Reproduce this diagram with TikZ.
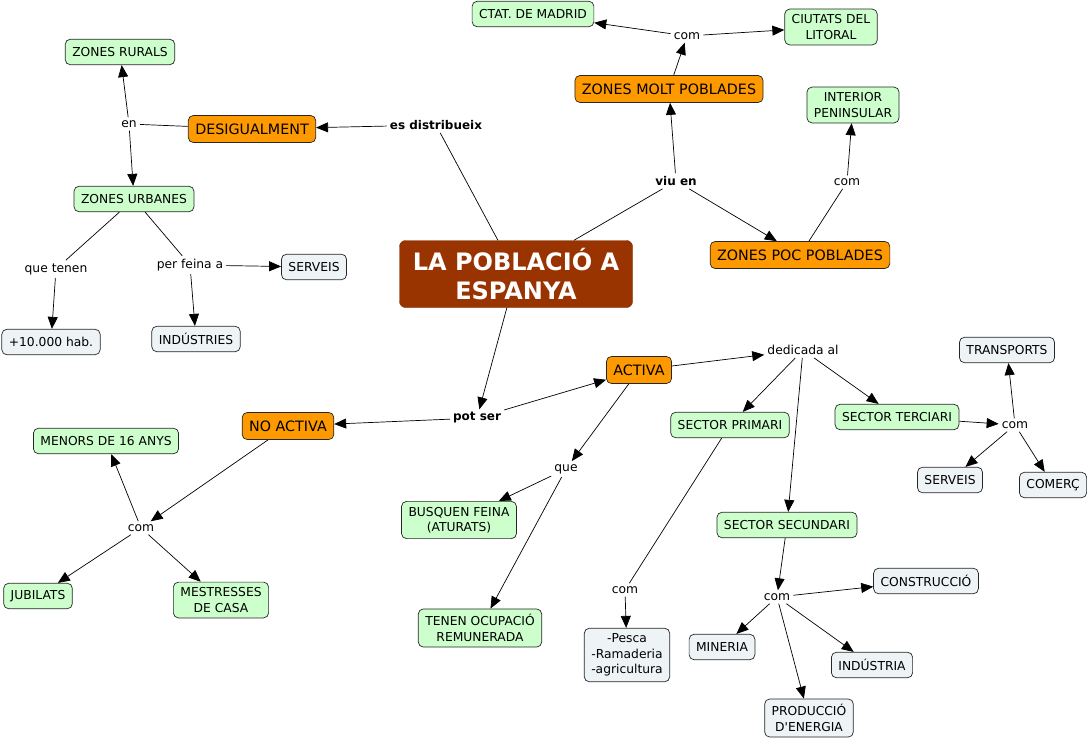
\documentclass[tikz,border=0pt]{standalone}
\usepackage{fontspec}
\setmainfont{DejaVu Sans}
\usetikzlibrary{arrows.meta}
\definecolor{grnc}{RGB}{204,255,204}
\definecolor{gryc}{RGB}{238,243,246}
\definecolor{orgc}{RGB}{255,153,0}
\definecolor{brnc}{RGB}{153,51,0}
\newcommand\myfs[1]{\fontsize{#1}{15.5}\selectfont}
\tikzset{
 base/.style={rounded corners=5pt, draw=black!85, line width=0.7pt, inner xsep=7pt, inner ysep=5.5pt, font=\myfs{12.3}, align=center},
 grn/.style={base, fill=grnc, minimum height=25.5pt},
 gry/.style={base, fill=gryc, minimum height=25.5pt},
 org/.style={base, fill=orgc, font=\myfs{14.3}, minimum height=27pt, inner xsep=7pt},
 lbl/.style={inner sep=3pt, font=\myfs{12.3}},
 blbl/.style={inner sep=3pt, font=\bfseries\myfs{12}},
 arr/.style={-{Triangle[length=12pt,width=10pt]}, line width=0.7pt},
 ln/.style={line width=0.7pt}
}
\begin{document}
\begin{tikzpicture}[x=1pt,y=-1pt]
\useasboundingbox (0,0) rectangle (1089,741);
% title
\node[rounded corners=6pt, fill=brnc, draw=brnc!80!black, text=white, font=\bfseries\fontsize{24}{29}\selectfont, align=center, minimum width=233pt, minimum height=67pt] (title) at (516,274) {LA POBLACIÓ A\\ESPANYA};
% orange
\node[org] (desig) at (252,129) {DESIGUALMENT};
\node[org] (molt) at (669,89) {ZONES MOLT POBLADES};
\node[org] (poc) at (800,255) {ZONES POC POBLADES};
\node[org] (activa) at (639,370) {ACTIVA};
\node[org] (noactiva) at (288,426) {NO ACTIVA};
% green
\node[grn] (rurals) at (120,52) {ZONES RURALS};
\node[grn] (urbanes) at (134,199) {ZONES URBANES};
\node[grn] (madrid) at (533,14) {CTAT. DE MADRID};
\node[grn] (litoral) at (831,27) {CIUTATS DEL\\LITORAL};
\node[grn] (interior) at (853,105) {INTERIOR\\PENINSULAR};
\node[grn] (menors) at (106,441) {MENORS DE 16 ANYS};
\node[grn] (jubilats) at (38,596) {JUBILATS};
\node[grn] (mestresses) at (221,600) {MESTRESSES\\DE CASA};
\node[grn] (busquen) at (459,520) {BUSQUEN FEINA\\(ATURATS)};
\node[grn] (tenen) at (480,628) {TENEN OCUPACIÓ\\REMUNERADA};
\node[grn] (primari) at (730,425) {SECTOR PRIMARI};
\node[grn] (terciari) at (897,417) {SECTOR TERCIARI};
\node[grn] (secundari) at (787,525) {SECTOR SECUNDARI};
% grey
\node[gry] (serveisA) at (314,267) {SERVEIS};
\node[gry] (hab) at (51,342) {+10.000 hab.};
\node[gry] (industries) at (196,339) {INDÚSTRIES};
\node[gry] (transports) at (1007,350) {TRANSPORTS};
\node[gry] (serveisB) at (950,480) {SERVEIS};
\node[gry] (comerc) at (1053,485) {COMERÇ};
\node[gry] (construccio) at (926,581) {CONSTRUCCIÓ};
\node[gry] (pesca) at (627,655) {-Pesca\\-Ramaderia\\-agricultura};
\node[gry] (mineria) at (722,647) {MINERIA};
\node[gry] (industria) at (872,665) {INDÚSTRIA};
\node[gry] (energia) at (809,718) {PRODUCCIÓ\\D\textquotesingle ENERGIA};
% labels
\node[blbl] (esd) at (436,125) {es distribueix};
\node[lbl] (en) at (129,124) {en};
\node[lbl] (quetenen) at (56,269) {que tenen};
\node[lbl] (perfeina) at (190,265) {per feina a};
\node[lbl] (comA) at (687,36) {com};
\node[blbl] (viuen) at (676,181) {viu en};
\node[lbl] (comB) at (847,182) {com};
\node[blbl] (potser) at (477,418) {pot ser};
\node[lbl] (dedicada) at (803,350) {dedicada al};
\node[lbl] (que) at (566,469) {que};
\node[lbl] (comN) at (141,528) {com};
\node[lbl] (comT) at (1015,425) {com};
\node[lbl] (comP) at (625,590) {com};
\node[lbl] (comS) at (777,597) {com};
% connectors
\draw[ln] (title) -- (esd);
\draw[arr] (esd) -- (desig);
\draw[ln] (desig) -- (en);
\draw[arr] (en) -- (rurals);
\draw[arr] (en) -- (urbanes);
\draw[ln] (urbanes) -- (quetenen);
\draw[arr] (quetenen) -- (hab);
\draw[ln] (urbanes) -- (perfeina);
\draw[arr] (perfeina) -- (serveisA);
\draw[arr] (perfeina) -- (industries);
\draw[ln] (title) -- (viuen);
\draw[arr] (viuen) -- (molt);
\draw[arr] (viuen) -- (poc);
\draw[arr] (molt) -- (comA);
\draw[arr] (comA) -- (madrid);
\draw[arr] (comA) -- (litoral);
\draw[ln] (poc) -- (comB);
\draw[arr] (comB) -- (interior);
\draw[arr] (title) -- (potser);
\draw[arr] (potser) -- (activa);
\draw[arr] (potser) -- (noactiva);
\draw[arr] (activa) -- (dedicada);
\draw[arr] (dedicada) -- (primari);
\draw[arr] (dedicada) -- (secundari);
\draw[arr] (dedicada) -- (terciari);
\draw[arr] (terciari) -- (comT);
\draw[arr] (comT) -- (transports);
\draw[arr] (comT) -- (serveisB);
\draw[arr] (comT) -- (comerc);
\draw[ln] (primari) -- (comP);
\draw[arr] (comP) -- (pesca);
\draw[arr] (secundari) -- (comS);
\draw[arr] (comS) -- (construccio);
\draw[arr] (comS) -- (mineria);
\draw[arr] (comS) -- (energia);
\draw[arr] (comS) -- (industria);
\draw[arr] (activa) -- (que);
\draw[arr] (que) -- (busquen);
\draw[arr] (que) -- (tenen);
\draw[arr] (noactiva) -- (comN);
\draw[arr] (comN) -- (menors);
\draw[arr] (comN) -- (jubilats);
\draw[arr] (comN) -- (mestresses);
\end{tikzpicture}
\end{document}
